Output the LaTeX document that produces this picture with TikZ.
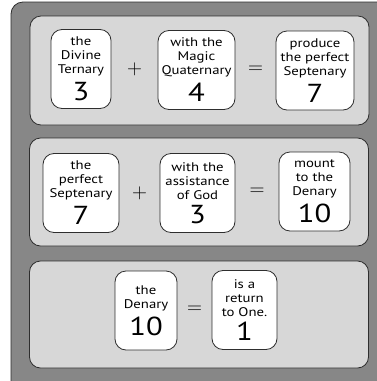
\documentclass[tikz,border=0pt]{standalone}
\usepackage{fontspec}
\setmainfont[FakeStretch=1.18]{PT Sans}
\usetikzlibrary{positioning,calc}
\definecolor{FrameGray}{HTML}{878787}
\definecolor{PanelGray}{HTML}{D7D7D7}
\definecolor{EdgeDark}{HTML}{2E2E2E}
\tikzset{
  frame/.style={draw=EdgeDark, thick, rounded corners=12pt, fill=FrameGray},
  panel/.style={draw=EdgeDark, thick, rounded corners=11pt, fill=PanelGray,
    minimum width=339pt},
  term/.style={draw=EdgeDark, thick, rounded corners=11pt, fill=white,
    align=center, minimum height=79pt, inner sep=1pt,
    font=\fontsize{12.5}{14}\selectfont},
  operator/.style={font=\fontsize{21}{21}\selectfont, inner sep=0pt}
}
\newcommand{\numeral}[1]{\\[5pt]{\fontsize{26}{28}\selectfont #1}}

\begin{document}
\begin{tikzpicture}[x=1pt, y=-1pt]
  \clip (0,0) rectangle (377,381);
  \draw[frame] (11,2) rectangle (392,396);
  \node[panel, minimum height=109pt] (rowA) at (199.5,70.5) {};
  \node[panel, minimum height=108pt] (rowB) at (199,192) {};
  \node[panel, minimum height=107pt] (rowC) at (199,314.5) {};
  % first sum
  \node[term, minimum width=60pt] (ternary) at (81,69) {the\\Divine\\Ternary\numeral{3}};
  \node[term, minimum width=77pt] (quaternary) at (196.5,70) {with the\\Magic\\Quaternary\numeral{4}};
  \node[term, minimum width=78pt] (septenary) at (315,70.5) {produce\\the perfect\\Septenary\numeral{7}};
  \node[operator] (plusA) at ($(ternary.east)!0.5!(quaternary.west)$) {$+$};
  \node[operator] (equalsA) at ($(quaternary.east)!0.5!(septenary.west)$) {$=$};
  % second sum
  \node[term, minimum width=76pt] (perfect) at (81,193) {the\\perfect\\Septenary\numeral{7}};
  \node[term, minimum width=75pt] (assistance) at (197.5,193) {with the\\assistance\\of God\numeral{3}};
  \node[term, minimum width=71pt] (denary) at (314.5,191.5) {mount\\to the\\Denary\numeral{10}};
  \node[operator] (plusB) at ($(perfect.east)!0.5!(assistance.west)$) {$+$};
  \node[operator] (equalsB) at ($(assistance.east)!0.5!(denary.west)$) {$=$};
  % return
  \node[term, minimum width=62pt] (tenth) at (146,310.5) {the\\Denary\numeral{10}};
  \node[term, minimum width=65pt] (unity) at (244.5,310) {is a\\return\\to One.\numeral{1}};
  \node[operator] (equalsC) at ($(tenth.east)!0.5!(unity.west)$) {$=$};
\end{tikzpicture}
\end{document}
